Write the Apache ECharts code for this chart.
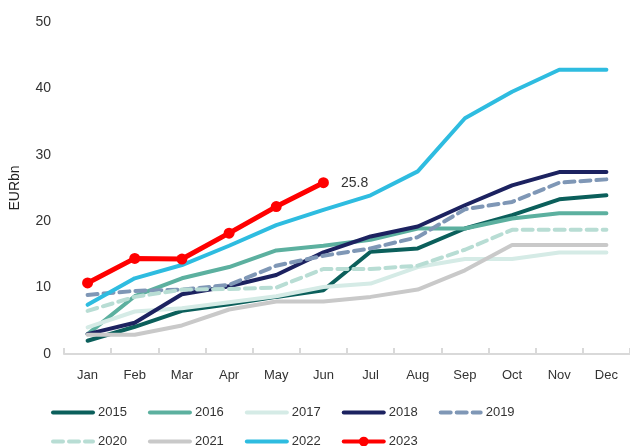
<!DOCTYPE html>
<html>
<head>
<meta charset="utf-8">
<script src="https://cdn.jsdelivr.net/npm/echarts@6/dist/echarts.min.js"></script>
<style>
  html, body { margin: 0; padding: 0; background: #fff; }
  #chart { width: 630px; height: 446px; }
</style>
</head>
<body>
<div id="chart"></div>
<script>
var months = ["Jan", "Feb", "Mar", "Apr", "May", "Jun", "Jul", "Aug", "Sep", "Oct", "Nov", "Dec"];

var y2015 = [2.0, 4.1, 6.5, 7.5, 8.6, 9.6, 15.4, 15.9, 18.9, 20.9, 23.3, 23.9];
var y2016 = [3.0, 8.7, 11.4, 13.1, 15.6, 16.3, 17.2, 18.9, 18.9, 20.4, 21.2, 21.2];
var y2017 = [4.0, 6.4, 6.9, 7.8, 8.7, 10.1, 10.6, 13.1, 14.3, 14.3, 15.3, 15.3];
var y2018 = [3.0, 4.7, 9.0, 10.2, 11.9, 15.3, 17.7, 19.2, 22.4, 25.4, 27.4, 27.4];
var y2019 = [8.9, 9.5, 9.7, 10.4, 13.3, 14.8, 15.9, 17.6, 21.8, 22.9, 25.8, 26.3];
var y2020 = [6.5, 8.6, 9.7, 9.8, 10.0, 12.8, 12.8, 13.3, 15.7, 18.7, 18.7, 18.7];
var y2021 = [2.9, 2.9, 4.3, 6.7, 7.9, 7.9, 8.6, 9.7, 12.6, 16.4, 16.4, 16.4];
var y2022 = [7.4, 11.4, 13.4, 16.3, 19.4, 21.7, 23.9, 27.5, 35.5, 39.5, 42.8, 42.8];
var y2023 = [10.7, 14.4, 14.3, 18.2, 22.2, 25.8];

var row1 = ["2015", "2016", "2017", "2018", "2019"];
var row2 = ["2020", "2021", "2022", "2023"];

var font = "Liberation Sans";

function line(name, data, color, dashed) {
  return {
    name: name,
    type: "line",
    data: data,
    symbol: "none",
    lineStyle: {
      color: color,
      width: 4,
      type: dashed ? [10, 6] : "solid",
      cap: "round",
    },
    itemStyle: { color: color },
  };
}

// plain lines in the legend, only 2023 keeps its dot
function legendItems(names) {
  return names.map(function (n) {
    return n === "2023" ? { name: n } : { name: n, itemStyle: { opacity: 0 } };
  });
}

function legendRow(names, top) {
  return {
    data: legendItems(names),
    left: 51,
    top: top,
    padding: 0,
    itemWidth: 40,
    itemHeight: 12,
    itemGap: 21,
    lineStyle: { width: 4 },
    textStyle: { color: "#333", fontSize: 13, fontFamily: font },
  };
}

var chartDom = document.getElementById("chart");
var myChart = echarts.init(chartDom);
var option;

option = {
  animation: false,
  textStyle: { fontFamily: font },
  grid: {
    left: 63,
    right: 0,
    top: 22,
    bottom: 92,
  },
  xAxis: {
    type: "category",
    data: months,
    axisLine: { lineStyle: { color: "#d9d9d9", width: 2 } },
    axisTick: { show: true, inside: true, length: 6, lineStyle: { color: "#d9d9d9", width: 2 } },
    axisLabel: { color: "#333", fontSize: 13, margin: 15, fontFamily: font },
  },
  yAxis: {
    type: "value",
    min: 0,
    max: 50,
    interval: 10,
    name: "EURbn",
    nameLocation: "middle",
    nameGap: 42,
    nameTextStyle: { color: "#222", fontSize: 14, fontFamily: font },
    axisLine: { show: false },
    axisTick: { show: false },
    splitLine: { show: false },
    axisLabel: { color: "#333", fontSize: 14, margin: 13, fontFamily: font },
  },
  legend: [legendRow(row1, 406), legendRow(row2, 435)],
  series: [
    line("2015", y2015, "#0b5f5b", false),
    line("2016", y2016, "#5cb09f", false),
    line("2017", y2017, "#d5ebe6", false),
    line("2018", y2018, "#1c2260", false),
    line("2019", y2019, "#7f97b6", true),
    line("2020", y2020, "#b8ddd4", true),
    line("2021", y2021, "#c9c9c9", false),
    line("2022", y2022, "#2ebce0", false),
    {
      name: "2023",
      type: "line",
      data: y2023,
      symbol: "circle",
      symbolSize: 11,
      lineStyle: { color: "#ff0000", width: 5, cap: "round" },
      itemStyle: { color: "#ff0000" },
      label: {
        show: true,
        position: "right",
        distance: 12,
        color: "#333",
        fontSize: 14,
        fontFamily: font,
        formatter: function (p) {
          return p.dataIndex === y2023.length - 1 ? p.value.toFixed(1) : "";
        },
      },
    },
  ],
};

option && myChart.setOption(option);
</script>
</body>
</html>
